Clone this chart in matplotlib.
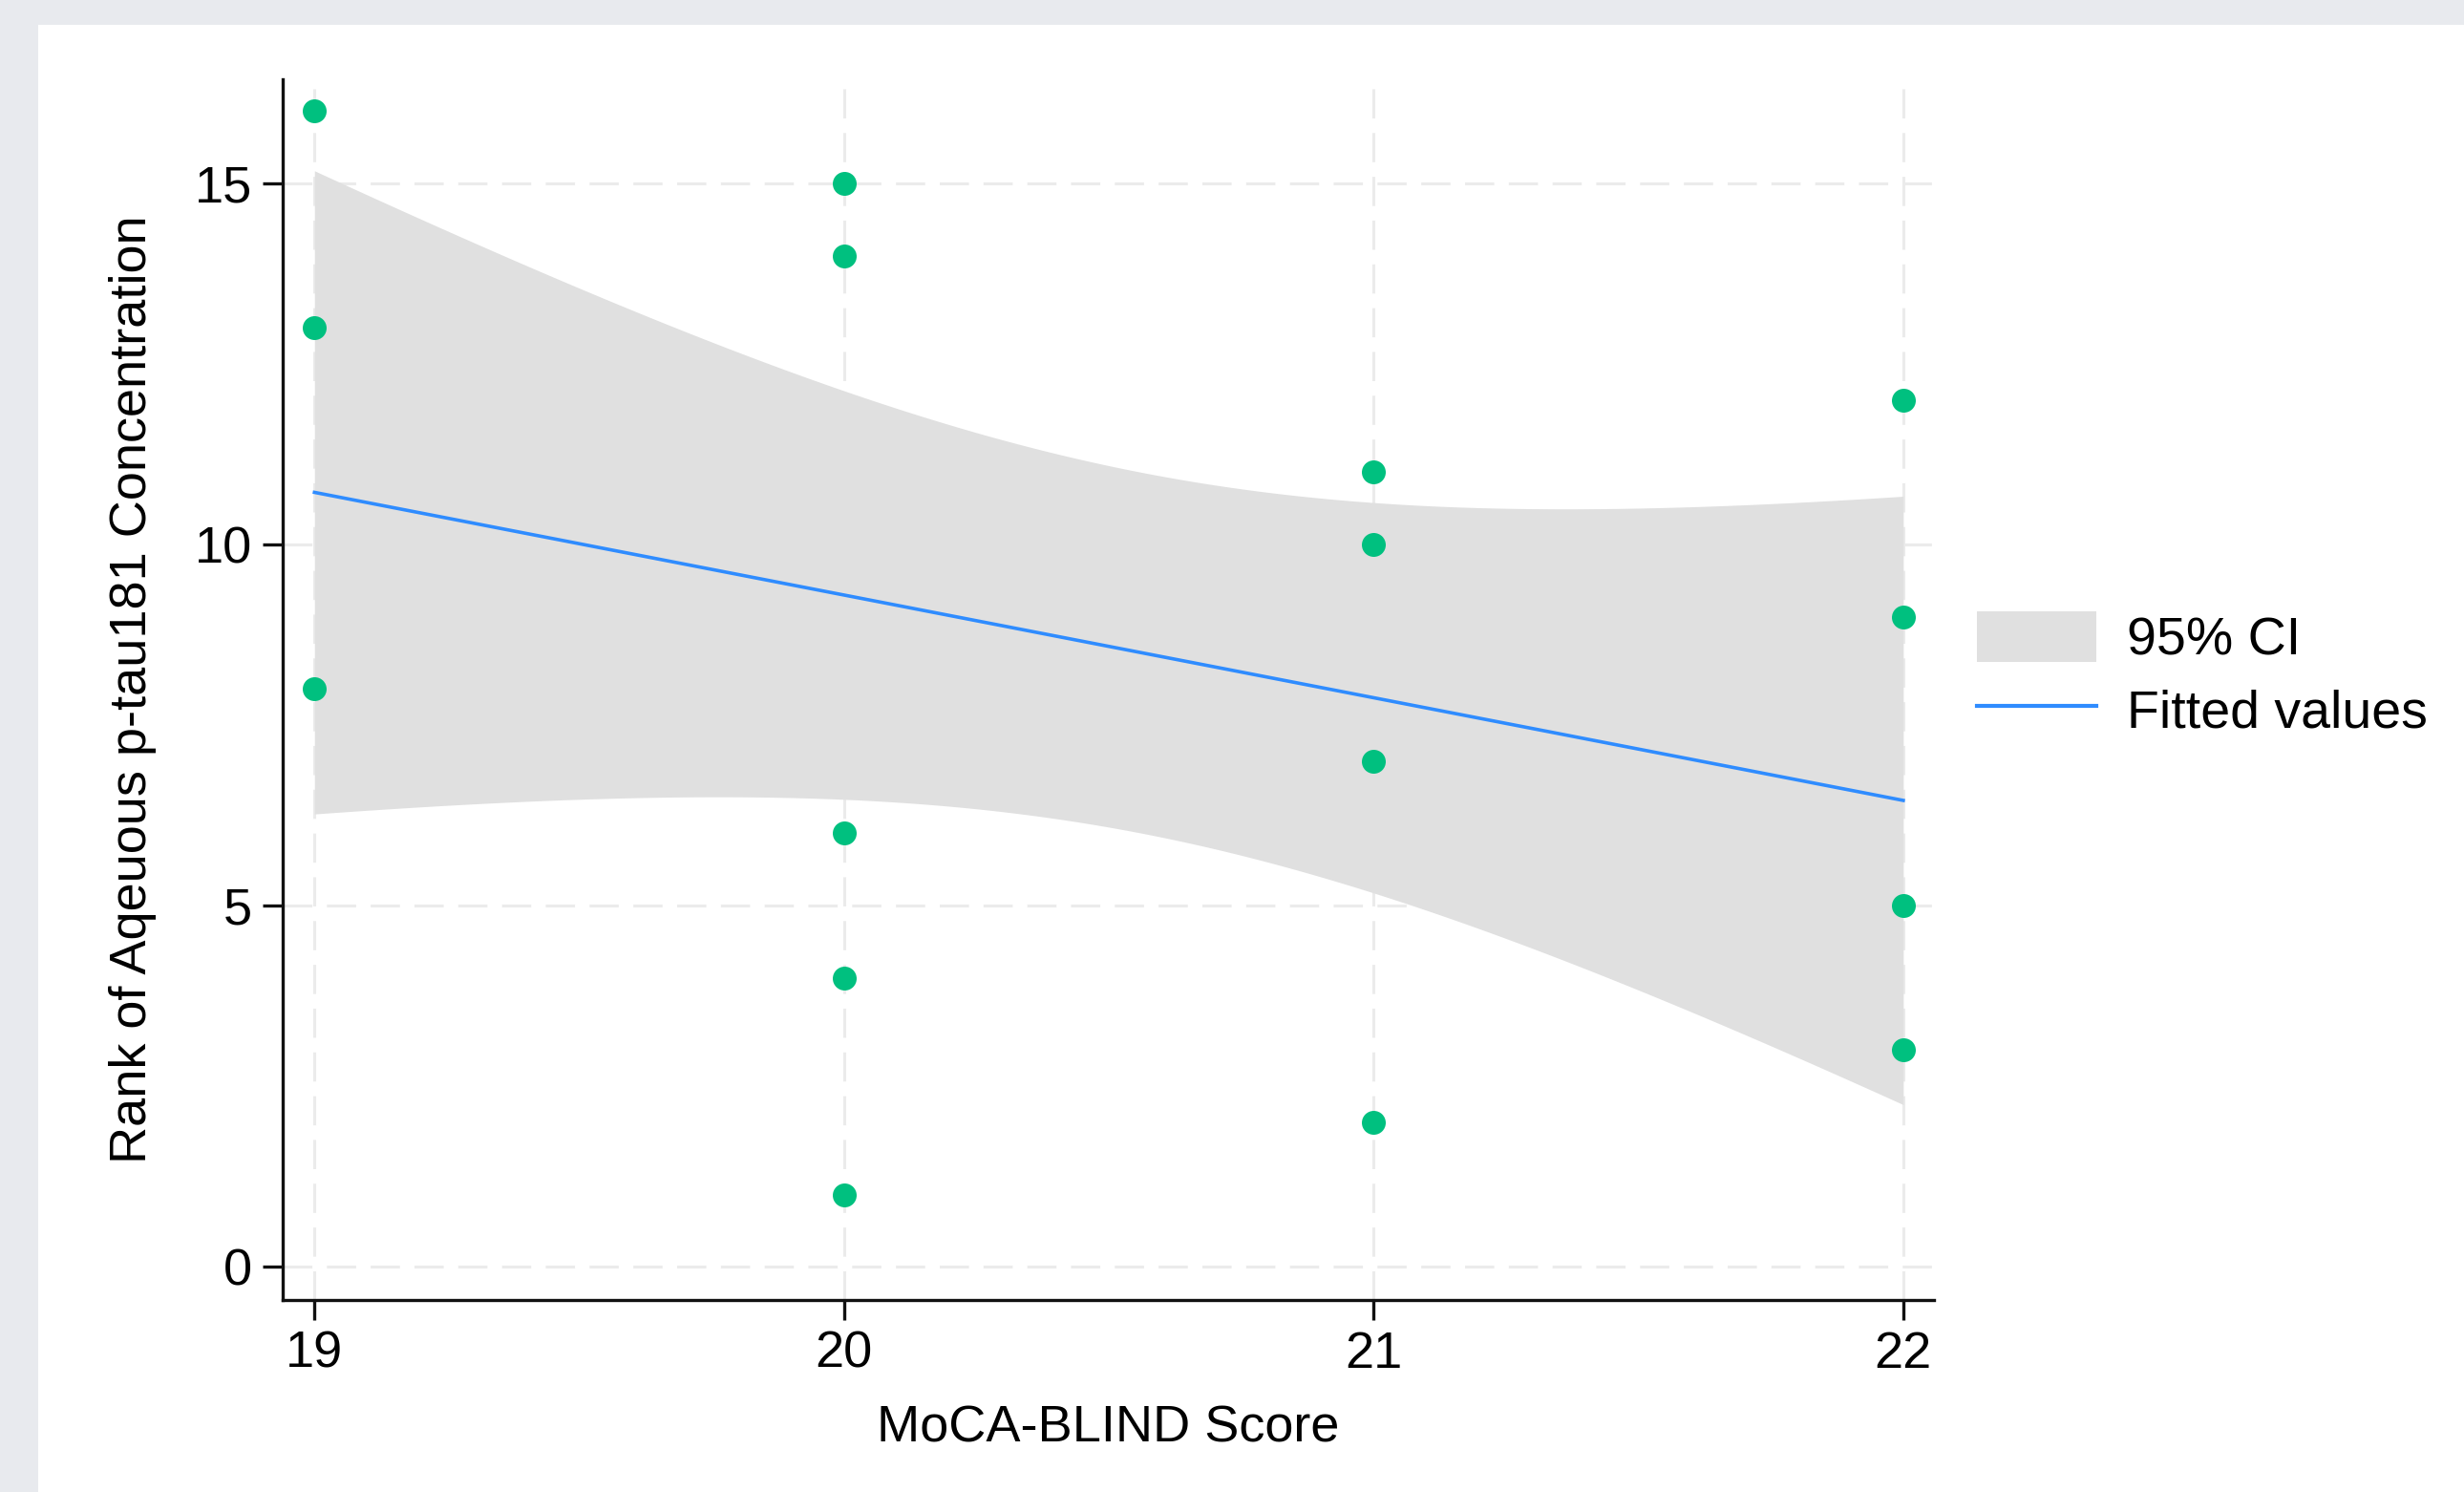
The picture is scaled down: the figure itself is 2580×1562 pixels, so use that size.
import numpy as np
import matplotlib
matplotlib.use("Agg")
import matplotlib.pyplot as plt
from matplotlib.patches import Rectangle, Patch
from matplotlib.lines import Line2D

# scatter data: MoCA-BLIND score vs rank of aqueous p-tau181
moca_score = [19, 19, 19, 20, 20, 20, 20, 20, 21, 21, 21, 21, 22, 22, 22, 22]
ptau_rank = [16, 13, 8, 15, 14, 6, 4, 1, 11, 10, 7, 2, 12, 9, 5, 3]

x_ticks = [19, 20, 21, 22]
y_ticks = [0, 5, 10, 15]
legend_labels = ["95% CI", "Fitted values"]

green = "#00c07f"
blue = "#2f8cff"
band = "#e0e0e0"
gridc = "#ebebeb"

plt.rcParams['font.family'] = ['Liberation Sans', 'DejaVu Sans']

# linear fit + 95% CI of the mean (like Stata lfitci)
x = np.array(moca_score, dtype=float)
y = np.array(ptau_rank, dtype=float)
n = len(x)
slope, intercept = np.polyfit(x, y, 1)
resid = y - (intercept + slope * x)
s = np.sqrt(np.sum(resid ** 2) / (n - 2))
sxx = np.sum((x - x.mean()) ** 2)
t_crit = 2.1448  # t(0.975, df=14)
xs = np.linspace(x.min(), x.max(), 200)
fit = intercept + slope * xs
half = t_crit * s * np.sqrt(1 / n + (xs - x.mean()) ** 2 / sxx)

fig = plt.figure(figsize=(25.8, 15.62), dpi=100)
fig.patch.set_facecolor("#e8eaee")
fig.patches.append(Rectangle((40 / 2580, 0), 1, 1 - 26 / 1562,
                             transform=fig.transFigure, facecolor="white",
                             edgecolor="none", zorder=-5))

ax = fig.add_axes([296 / 2580, 201 / 1562, (2025 - 296) / 2580, (1479 - 201) / 1562])
ax.set_facecolor("none")
ax.set_zorder(2)

ax.fill_between(xs, fit - half, fit + half, color=band, lw=0, zorder=2)
ax.plot(xs, fit, color=blue, lw=2.6, zorder=3)
ax.plot(x, y, 'o', color=green, ms=18, mec="none", zorder=4)

ax.set_xlim(18.94, 22.058)
ax.set_ylim(-0.46, 16.44)
ax.set_xticks(x_ticks)
ax.set_yticks(y_ticks)
ax.grid(True, color=gridc, lw=2.2, linestyle=(0, (10, 5)), zorder=1)
ax.set_axisbelow(True)

for side in ["top", "right"]:
    ax.spines[side].set_visible(False)
for side in ["left", "bottom"]:
    ax.spines[side].set_linewidth(2.4)
    ax.spines[side].set_color("#111111")

ax.tick_params(axis='both', direction='out', length=15, width=2.4,
               color="#111111", labelsize=39)
ax.tick_params(axis='x', pad=8)
ax.tick_params(axis='y', pad=8)

ax.set_xlabel("MoCA-BLIND Score", fontsize=39, labelpad=20)
ax.set_ylabel("Rank of Aqeuous p-tau181 Concentration", fontsize=39, labelpad=29)

handles = [Patch(facecolor=band, edgecolor="none"),
           Line2D([0], [0], color=blue, lw=3)]
fig.legend(handles, legend_labels, loc="center left",
           bbox_to_anchor=(2048 / 2580, (1562 - 707) / 1562),
           bbox_transform=fig.transFigure, frameon=False, fontsize=40,
           handlelength=2.25, handleheight=1.08, handletextpad=0.58,
           labelspacing=0.35, borderaxespad=0)

fig.savefig("out.png", dpi=100, facecolor=fig.get_facecolor())
